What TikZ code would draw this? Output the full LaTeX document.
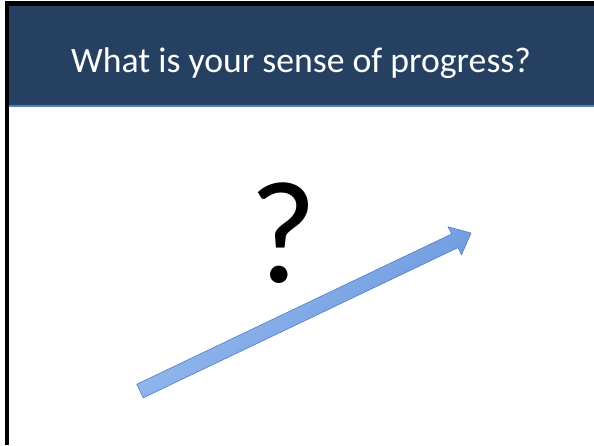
\documentclass[tikz,border=0pt]{standalone}
\usepackage{fontspec}
\setmainfont{Carlito}
\definecolor{hdrblue}{RGB}{37,64,97}
\definecolor{hdrline}{RGB}{79,129,189}
\definecolor{arrowlight}{RGB}{160,194,242}
\definecolor{arrowdark}{RGB}{98,145,218}
\definecolor{arrowedge}{RGB}{80,126,196}
\tikzset{
  titletext/.style={text=white, font=\fontsize{35.7}{40}\selectfont, anchor=base, inner sep=0pt},
  qmark/.style={text=black, font=\fontsize{146}{150}\selectfont, anchor=base, inner sep=0pt},
  blockarrow/.style={draw=arrowedge, line width=0.6pt, line join=miter, top color=arrowlight, bottom color=arrowdark, shading angle=43}
}
\begin{document}
\begin{tikzpicture}[x=1pt,y=-1pt]
\useasboundingbox (0,0) rectangle (594,445);
\fill[white] (0,0) rectangle (594,445);
% frame
\fill[black] (5,0.5) rectangle (594,6);
\fill[black] (5,0.5) rectangle (8.5,445);
% header
\fill[hdrblue] (8.5,6) rectangle (594,105);
\fill[hdrline] (8.5,105) rectangle (594,107);
\node[titletext] (title) at (301,72) {What is your sense of progress?};
% question mark
\node[qmark] (q) at (283,282) {?};
% arrow
\coordinate (tailA) at (136.8,384.2);
\coordinate (tailB) at (143.2,397.8);
\coordinate (shaftB) at (458.0,247.6);
\coordinate (headB) at (461.5,254.8);
\coordinate (tip) at (471,233);
\coordinate (headA) at (448.1,226.8);
\coordinate (shaftA) at (451.6,234.0);
\path[blockarrow] (tailA) -- (tailB) -- (shaftB) -- (headB) -- (tip) -- (headA) -- (shaftA) -- cycle;
\end{tikzpicture}
\end{document}
